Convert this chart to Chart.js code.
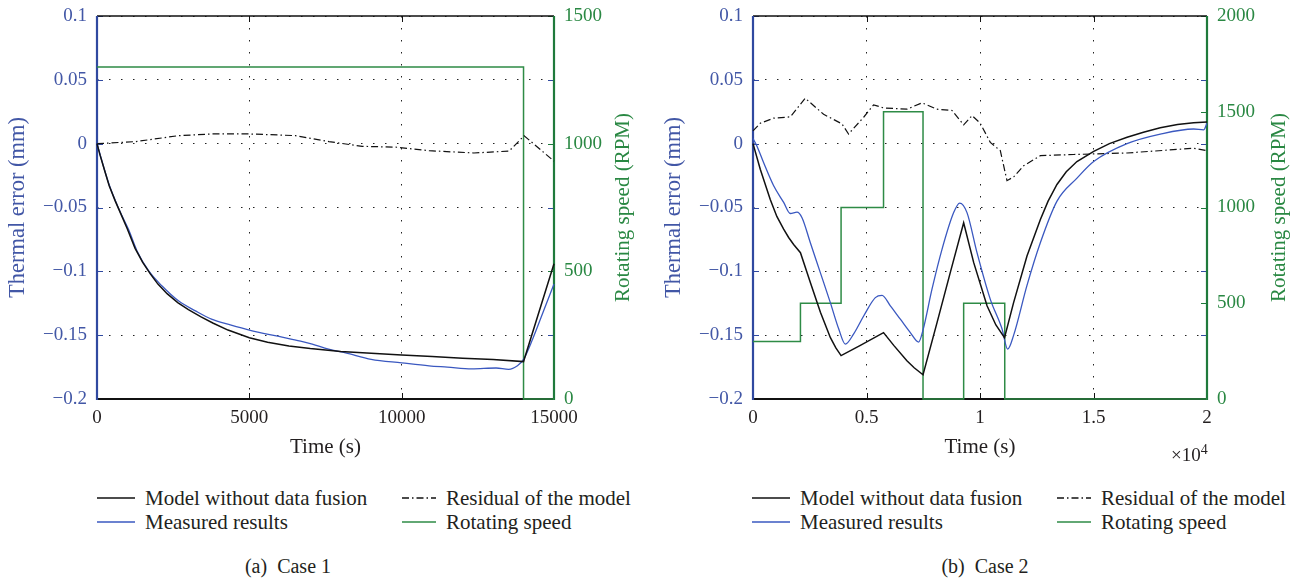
<!DOCTYPE html>
<html>
<head>
<meta charset="utf-8">
<script src="https://cdn.jsdelivr.net/npm/chart.js@4.4.1/dist/chart.umd.min.js"></script>
<style>
  body { margin: 0; background: #fff; width: 1300px; height: 578px; position: relative; overflow: hidden;
         font-family: "Liberation Serif", serif; color: #231f20; }
  canvas { position: absolute; top: 0; }
  #case1 { left: 0; }
  #case2 { left: 650px; }
  .lg { position: absolute; display: flex; align-items: center; height: 24px; font-size: 21px; white-space: nowrap; }
  .lg svg { margin-right: 10px; }
  .caption { position: absolute; width: 400px; text-align: center; font-size: 20px; line-height: 24px; top: 554px; }
  .exp { position: absolute; left: 1171px; top: 440px; font-size: 19px; line-height: 20px; }
  .exp sup { font-size: 14px; vertical-align: 7px; }
</style>
</head>
<body>
<canvas id="case1" width="650" height="470"></canvas>
<canvas id="case2" width="650" height="470"></canvas>

<div class="lg" style="left:97px;top:486px"><svg width="38" height="4"><line x1="0" y1="2" x2="38" y2="2" stroke="#111" stroke-width="1.5"/></svg>Model without data fusion</div>
<div class="lg" style="left:402px;top:486px"><svg width="34" height="4"><line x1="0" y1="2" x2="34" y2="2" stroke="#111" stroke-width="1.3" stroke-dasharray="7 3 1.5 3"/></svg>Residual of the model</div>
<div class="lg" style="left:97px;top:510px"><svg width="38" height="4"><line x1="0" y1="2" x2="38" y2="2" stroke="#3a58c0" stroke-width="1.5"/></svg>Measured results</div>
<div class="lg" style="left:402px;top:510px"><svg width="34" height="4"><line x1="0" y1="2" x2="34" y2="2" stroke="#2e8b46" stroke-width="1.5"/></svg>Rotating speed</div>
<div class="caption" style="left:88px">(a)&nbsp; Case 1</div>

<div class="lg" style="left:752px;top:486px"><svg width="38" height="4"><line x1="0" y1="2" x2="38" y2="2" stroke="#111" stroke-width="1.5"/></svg>Model without data fusion</div>
<div class="lg" style="left:1057px;top:486px"><svg width="34" height="4"><line x1="0" y1="2" x2="34" y2="2" stroke="#111" stroke-width="1.3" stroke-dasharray="7 3 1.5 3"/></svg>Residual of the model</div>
<div class="lg" style="left:752px;top:510px"><svg width="38" height="4"><line x1="0" y1="2" x2="38" y2="2" stroke="#3a58c0" stroke-width="1.5"/></svg>Measured results</div>
<div class="lg" style="left:1057px;top:510px"><svg width="34" height="4"><line x1="0" y1="2" x2="34" y2="2" stroke="#2e8b46" stroke-width="1.5"/></svg>Rotating speed</div>
<div class="caption" style="left:785px">(b)&nbsp; Case 2</div>

<div class="exp">&times;10<sup>4</sup></div>

<script>
// ---- Case 1 (time in s) ----
const case1ModelTime = [0, 100, 250, 400, 600, 800, 1000, 1250, 1500, 1750, 2000, 2300, 2650, 3000, 3400, 3800, 4300, 5000, 5600, 6300, 7000, 8000, 9000, 10000, 11000, 12000, 13000, 14000, 15000];
const case1Model     = [0, -0.009, -0.021, -0.033, -0.045, -0.056, -0.067, -0.082, -0.093, -0.102, -0.110, -0.1175, -0.1245, -0.130, -0.1355, -0.1405, -0.146, -0.152, -0.1555, -0.1585, -0.1605, -0.1628, -0.1642, -0.1656, -0.1668, -0.168, -0.169, -0.1707, -0.094];

const case1MeasTime = [0, 383, 712, 1040, 1314, 1698, 2136, 2683, 3231, 3779, 4326, 5000, 5970, 6680, 7065, 7600, 8160, 9000, 10000, 10900, 11500, 12300, 13100, 13512, 13800, 14000, 14300, 14650, 15000];
const case1Meas     = [0, -0.031, -0.0508, -0.0675, -0.084, -0.0997, -0.1115, -0.1233, -0.131, -0.1377, -0.1416, -0.146, -0.151, -0.1546, -0.157, -0.161, -0.1639, -0.169, -0.1717, -0.174, -0.175, -0.1764, -0.1757, -0.1768, -0.174, -0.169, -0.153, -0.1315, -0.110];

const case1ResTime = [0, 1260, 2683, 3779, 5005, 6517, 7612, 8707, 9803, 10898, 12370, 13527, 14020, 15000];
const case1Res     = [0, 0.0016, 0.0063, 0.0076, 0.0076, 0.0063, 0.0016, -0.0021, -0.0027, -0.0055, -0.0073, -0.0058, 0.0062, -0.0137];

const case1SpeedTime = [0, 14000, 15000];
const case1Speed     = [1300, 0, 0];

const case1XTicks  = [0, 5000, 10000, 15000];
const case1XLabels = ['0', '5000', '10000', '15000'];
const case1RTicks  = [0, 500, 1000, 1500];
const case1RLabels = ['0', '500', '1000', '1500'];

// ---- Case 2 (time in s, axis shown as x10^4) ----
const case2ModelTime = [0, 320, 760, 1050, 1350, 1570, 1790, 2090, 2530, 2970, 3410, 3650, 3880, 4730, 5750, 6200, 6780, 7100, 7490, 8110, 8690, 9280, 9720, 10310, 10700, 11080, 11480, 12070, 12660, 13000, 13390, 13800, 14270, 15010, 15700, 16480, 17200, 17940, 18700, 19410, 20000];
const case2Model     = [0, -0.020, -0.0438, -0.057, -0.067, -0.0735, -0.079, -0.0854, -0.109, -0.132, -0.152, -0.160, -0.166, -0.158, -0.148, -0.158, -0.170, -0.1755, -0.181, -0.140, -0.101, -0.062, -0.093, -0.127, -0.142, -0.152, -0.1245, -0.088, -0.0594, -0.045, -0.032, -0.022, -0.014, -0.006, 0.000, 0.005, 0.009, 0.0125, 0.015, 0.0163, 0.017];

const case2MeasTime = [0, 176, 470, 910, 1351, 1645, 1938, 2159, 2526, 2966, 3407, 3774, 4068, 4435, 4875, 5389, 5683, 6050, 6490, 6931, 7298, 7489, 7885, 8326, 8840, 9104, 9427, 9868, 10455, 10969, 11219, 11483, 12070, 12658, 13392, 14273, 15007, 16476, 17943, 19410, 19850, 20000];
const case2Meas     = [0.004, -0.002, -0.015, -0.033, -0.046, -0.0547, -0.0536, -0.058, -0.0776, -0.101, -0.1245, -0.145, -0.157, -0.149, -0.135, -0.1206, -0.1188, -0.127, -0.1375, -0.148, -0.1554, -0.146, -0.114, -0.0828, -0.054, -0.0465, -0.054, -0.0854, -0.122, -0.145, -0.161, -0.150, -0.111, -0.0776, -0.045, -0.027, -0.014, 0.000, 0.0075, 0.0115, 0.0108, 0.016];

const case2ResTime = [0, 320, 910, 1650, 2300, 3110, 3920, 4210, 4875, 5313, 5750, 6784, 7445, 8100, 8767, 9280, 9650, 10010, 10454, 10895, 11189, 11483, 11924, 12658, 14130, 16476, 19410, 20000];
const case2Res     = [0.010, 0.016, 0.020, 0.021, 0.0356, 0.023, 0.0155, 0.0076, 0.0207, 0.0304, 0.028, 0.027, 0.032, 0.027, 0.026, 0.0147, 0.022, 0.016, 0.001, -0.0055, -0.029, -0.026, -0.0173, -0.0094, -0.0085, -0.0073, -0.0036, -0.0055];

const case2SpeedTime = [0, 2090, 3880, 5750, 7490, 9280, 11090, 20000];
const case2Speed     = [300, 500, 1000, 1500, 0, 500, 0, 0];

const case2XTicks  = [0, 5000, 10000, 15000, 20000];
const case2XLabels = ['0', '0.5', '1', '1.5', '2'];
const case2RTicks  = [0, 500, 1000, 1500, 2000];
const case2RLabels = ['0', '500', '1000', '1500', '2000'];

// shared thermal-error axis
const errTicks  = [-0.2, -0.15, -0.1, -0.05, 0, 0.05, 0.1];
const errLabels = ['\u22120.2', '\u22120.15', '\u22120.1', '\u22120.05', '0', '0.05', '0.1'];

const blueText = '#4257a6';
const greenText = '#2a8843';
const blueAxis = '#3049a0';
const greenAxis = '#1f7a3c';
const blueLine = '#3a58c0';
const greenLine = '#2e8b46';
const fontFamily = '"Liberation Serif", serif';

Chart.defaults.font.family = fontFamily;

let toPoints = (xs, ys) => xs.map((x, i) => ({x: x, y: ys[i]}));

let setTicks = (values) => (scale) => {
    scale.ticks = values.map(v => ({value: v}));
};

// fixed axis sizes, and no extra room asked for the end labels
let fixWidth = (w) => (scale) => {
    scale.width = w;
    scale.paddingTop = 0;
    scale.paddingBottom = 0;
};

// frame, inner tick marks and the right-hand title
let framePlugin = {
    id: 'frame',
    beforeDatasetsDraw(chart) {
        let {ctx, chartArea: a, scales} = chart;
        let line = (x1, y1, x2, y2) => {
            ctx.beginPath();
            ctx.moveTo(x1, y1);
            ctx.lineTo(x2, y2);
            ctx.stroke();
        };
        ctx.save();
        ctx.lineWidth = 1;

        ctx.strokeStyle = '#111';
        scales.x.ticks.forEach(t => {
            let px = Math.round(scales.x.getPixelForValue(t.value)) + 0.5;
            line(px, a.bottom, px, a.bottom - 6);
            line(px, a.top, px, a.top + 6);
        });

        ctx.strokeStyle = blueAxis;
        scales.y.ticks.forEach(t => {
            let py = Math.round(scales.y.getPixelForValue(t.value)) + 0.5;
            line(a.left, py, a.left + 6, py);
            line(a.right, py, a.right - 6, py);
        });

        ctx.strokeStyle = greenAxis;
        scales.y2.ticks.forEach(t => {
            let py = Math.round(scales.y2.getPixelForValue(t.value)) + 0.5;
            line(a.right, py, a.right - 6, py);
        });

        ctx.lineWidth = 1.3;
        ctx.strokeStyle = '#111';
        line(a.left, a.top, a.right, a.top);
        ctx.lineWidth = 2.2;
        line(a.left, a.bottom, a.right, a.bottom);
        ctx.strokeStyle = blueAxis;
        line(a.left, a.top, a.left, a.bottom + 1);
        ctx.strokeStyle = greenAxis;
        line(a.right, a.top, a.right, a.bottom + 1);
        ctx.restore();
    },
    afterDraw(chart, args, opts) {
        let {ctx, chartArea: a} = chart;
        ctx.save();
        ctx.translate(opts.titleX, (a.top + a.bottom) / 2);
        ctx.rotate(-Math.PI / 2);
        ctx.font = '21px ' + fontFamily;
        ctx.fillStyle = greenText;
        ctx.textAlign = 'center';
        ctx.textBaseline = 'middle';
        ctx.fillText('Rotating speed (RPM)', 0, 0);
        ctx.restore();
    }
};

let renderCase = (canvasId, c) => {

    let lineSet = (label, data, color, width, extra) => Object.assign({
        label: label,
        data: data,
        borderColor: color,
        backgroundColor: color,
        borderWidth: width,
        pointRadius: 0,
        fill: false,
        clip: 4,
        yAxisID: 'y'
    }, extra || {});

    new Chart(document.getElementById(canvasId), {
        type: 'line',
        data: {
            datasets: [
                lineSet('Model without data fusion', toPoints(c.modelTime, c.model), '#111', 1.5),
                lineSet('Measured results', toPoints(c.measTime, c.meas), blueLine, 1.3, {cubicInterpolationMode: 'monotone'}),
                lineSet('Residual of the model', toPoints(c.resTime, c.res), '#111', 1.2, {borderDash: [7, 3, 1.5, 3]}),
                lineSet('Rotating speed', toPoints(c.speedTime, c.speed), greenLine, 1.5, {yAxisID: 'y2', stepped: true})
            ]
        },
        options: {
            responsive: false,
            animation: false,
            devicePixelRatio: 1,
            layout: { padding: { top: 16, left: 0, right: 0, bottom: 0 } },
            plugins: {
                legend: { display: false },
                tooltip: { enabled: false },
                frame: { titleX: c.rightTitleX }
            },
            scales: {
                x: {
                    type: 'linear',
                    min: c.xTicks[0],
                    max: c.xTicks[c.xTicks.length - 1],
                    afterBuildTicks: setTicks(c.xTicks),
                    afterFit: (s) => { s.height = 71; },
                    ticks: {
                        padding: 8,
                        color: '#231f20',
                        font: { size: 19 },
                        maxRotation: 0,
                        callback: (v, i) => c.xLabels[i]
                    },
                    grid: { color: '#222', lineWidth: 1, drawTicks: false },
                    border: { display: false, dash: [1.5, 10.5] },
                    title: {
                        display: true,
                        text: 'Time (s)',
                        color: '#231f20',
                        font: { size: 21 },
                        padding: { top: 0, bottom: 10 }
                    }
                },
                y: {
                    position: 'left',
                    min: -0.2,
                    max: 0.1,
                    afterBuildTicks: setTicks(errTicks),
                    afterFit: fixWidth(c.leftWidth),
                    ticks: {
                        padding: 10,
                        color: blueText,
                        font: { size: 19 },
                        callback: (v, i) => errLabels[i]
                    },
                    grid: { color: '#222', lineWidth: 1, drawTicks: false },
                    border: { display: false, dash: [1.5, 10.5] },
                    title: {
                        display: true,
                        text: 'Thermal error (mm)',
                        color: blueText,
                        font: { size: 22.5 },
                        padding: { top: c.leftTitlePad, bottom: 0 }
                    }
                },
                y2: {
                    position: 'right',
                    min: 0,
                    max: c.rTicks[c.rTicks.length - 1],
                    afterBuildTicks: setTicks(c.rTicks),
                    afterFit: fixWidth(c.rightWidth),
                    ticks: {
                        padding: 10,
                        color: greenText,
                        font: { size: 19 },
                        callback: (v, i) => c.rLabels[i]
                    },
                    grid: { display: false, drawTicks: false },
                    border: { display: false }
                }
            }
        },
        plugins: [framePlugin]
    });
};

renderCase('case1', {
    modelTime: case1ModelTime, model: case1Model,
    measTime: case1MeasTime, meas: case1Meas,
    resTime: case1ResTime, res: case1Res,
    speedTime: case1SpeedTime, speed: case1Speed,
    xTicks: case1XTicks, xLabels: case1XLabels,
    rTicks: case1RTicks, rLabels: case1RLabels,
    leftWidth: 97, rightWidth: 96, leftTitlePad: 4.5, rightTitleX: 623
});

renderCase('case2', {
    modelTime: case2ModelTime, model: case2Model,
    measTime: case2MeasTime, meas: case2Meas,
    resTime: case2ResTime, res: case2Res,
    speedTime: case2SpeedTime, speed: case2Speed,
    xTicks: case2XTicks, xLabels: case2XLabels,
    rTicks: case2RTicks, rLabels: case2RLabels,
    leftWidth: 103, rightWidth: 93, leftTitlePad: 10.5, rightTitleX: 629
});
</script>
</body>
</html>
